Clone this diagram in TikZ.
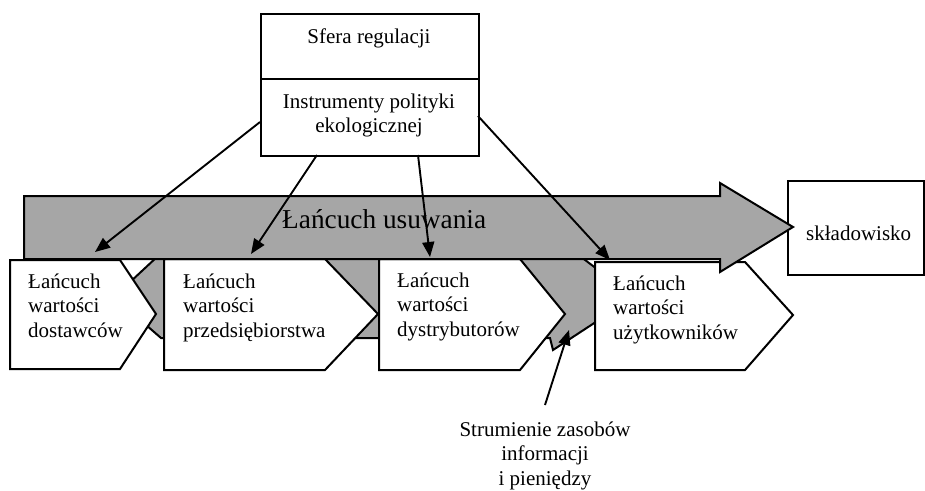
\documentclass[tikz,border=0pt]{standalone}
\usepackage{fontspec}
\setmainfont{Liberation Serif}
\usetikzlibrary{arrows.meta}
\begin{document}
\begin{tikzpicture}[x=1pt,y=-1pt,line join=miter,
  outline/.style={draw=black,line width=2pt},
  greyshape/.style={outline,fill=black!35},
  whitebox/.style={outline,fill=white},
  txt/.style={font=\fontsize{21}{24.5}\selectfont,inner sep=0pt,align=left},
  bigtxt/.style={font=\fontsize{27.3}{30}\selectfont,inner sep=0pt},
  conn/.style={line width=1.9pt,-{Triangle[length=15pt,width=12pt]}}]
\useasboundingbox (0,0) rectangle (925,490);
\fill[white] (0,0) rectangle (925,490);

% top box
\node[outline,minimum width=218pt,minimum height=65pt,inner sep=0pt,anchor=north west] (sfera) at (260,13) {};
\node[outline,minimum width=218pt,minimum height=77pt,inner sep=0pt,anchor=north west] (instr) at (260,78) {};
\node[txt,anchor=base] (tsfera) at (369,43) {Sfera regulacji};
\node[txt,align=center,anchor=base] (tinstr) at (369,132.5) {Instrumenty polityki\\ekologicznej};

% lower grey arrow (flows)
\draw[greyshape] (114,297) -- (158,256) -- (550,256) -- (560,241) -- (634,297)
  -- (553,350) -- (550,338) -- (161,338) -- cycle;

% value chain boxes
\draw[whitebox] (10,260) -- (120,260) -- (156,314) -- (120,369) -- (10,369) -- cycle;
\draw[whitebox] (164,259) -- (325,259) -- (378,314) -- (325,370) -- (164,370) -- cycle;
\draw[whitebox] (379,259) -- (520,259) -- (565,314) -- (520,370) -- (379,370) -- cycle;
\draw[whitebox] (595,262) -- (745,262) -- (793,315) -- (745,370) -- (595,370) -- cycle;

\node[txt,anchor=base west] (tdost) at (28,337) {Łańcuch\\wartości\\dostawców};
\node[txt,anchor=base west] (tprzed) at (183,337) {Łańcuch\\wartości\\przedsiębiorstwa};
\node[txt,anchor=base west] (tdystr) at (397,336) {Łańcuch\\wartości\\dystrybutorów};
\node[txt,anchor=base west] (tuzyt) at (613,339) {Łańcuch\\wartości\\użytkowników};

% skladowisko
\node[outline,minimum width=136pt,minimum height=94pt,inner sep=0pt,anchor=north west] (sklad) at (787,180) {};
\node[txt,anchor=base west] (tsklad) at (806,240) {składowisko};

% upper grey arrow
\draw[greyshape] (24,196) -- (720,196) -- (720,183) -- (793,227) -- (720,272)
  -- (720,259) -- (24,259) -- cycle;
\node[bigtxt,anchor=base west] (tusuw) at (282,228) {Łańcuch usuwania};

% flow label
\node[txt,align=center,anchor=base] (tflow) at (545,485) {Strumienie zasobów\\informacji\\i pieniędzy};

% connector endpoints
\coordinate (s1) at (260,122); \coordinate (e1) at (95,252);
\coordinate (s2) at (317,155); \coordinate (e2) at (251,254);
\coordinate (s3) at (418,155); \coordinate (e3) at (430,257);
\coordinate (s4) at (478,116); \coordinate (e4) at (610,260);
\coordinate (ls) at (545,405); \coordinate (le) at (569,330);

\draw[conn] (s1) -- (e1);
\draw[conn] (s2) -- (e2);
\draw[conn] (s3) -- (e3);
\draw[conn] (s4) -- (e4);
\draw[conn] (ls) -- (le);
\end{tikzpicture}
\end{document}
